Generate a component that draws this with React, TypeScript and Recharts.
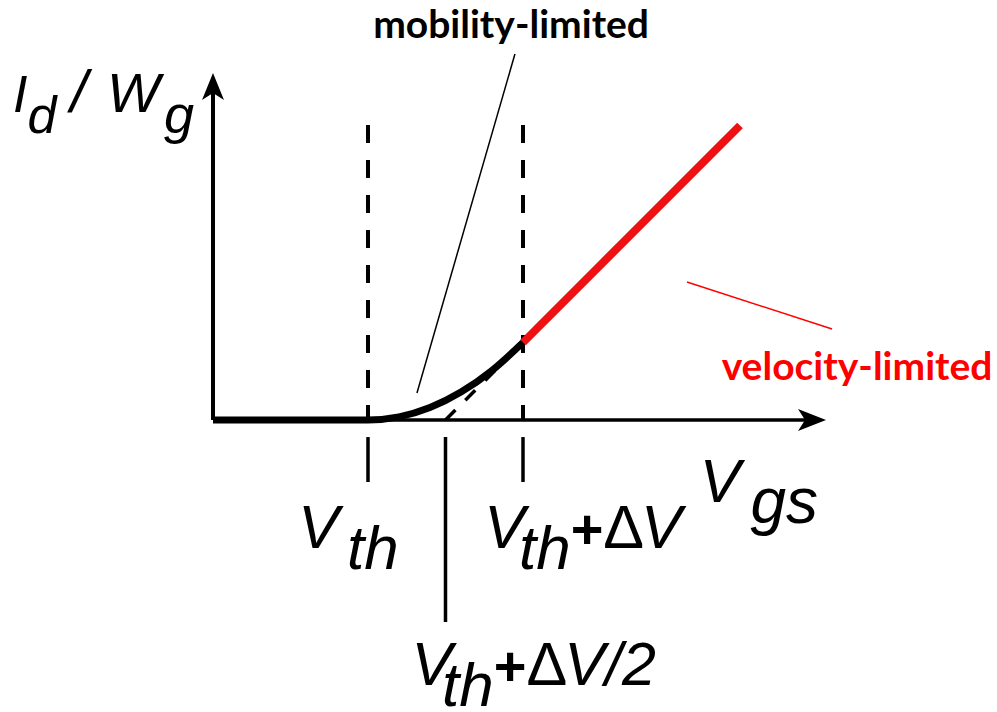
import React from 'react';
import { ComposedChart, Line, XAxis, YAxis, ReferenceLine, ReferenceDot } from 'recharts';

// Drain current per gate width versus gate voltage, in normalised units
// (V_th = 1, ΔV = 1, unit slope in the velocity-limited regime).
const mobilityVgs = [0, 1.0, 1.2, 1.4, 1.6, 1.8, 2.0];
const mobilityId = [0, 0, 0.02, 0.08, 0.18, 0.32, 0.5];
const velocityVgs = [2.0, 3.4];
const velocityId = [0.5, 1.9];
const tangentVgs = [1.5, 2.0];
const tangentId = [0, 0.5];

// Marked gate voltages
const V_TH = 1.0;
const V_TH_HALF = 1.5;
const V_TH_DV = 2.0;

const CHART_W = 997;
const CHART_H = 712;
const X_DOMAIN: [number, number] = [-1.3742, 5.0581];
const Y_DOMAIN: [number, number] = [-1.8839, 2.7097];

const mobilityData = mobilityVgs.map((v, i) => ({ v, id: mobilityId[i] }));
const velocityData = velocityVgs.map((v, i) => ({ v, id: velocityId[i] }));
const tangentData = tangentVgs.map((v, i) => ({ v, id: tangentId[i] }));

const MATH_FONT = "'Liberation Sans', Arial, Helvetica, sans-serif";
const NOTE_FONT = "Lato, 'Open Sans', sans-serif";
const SUB = 21;

type DotProps = { cx?: number; cy?: number };

const VthLabel = ({ cx = 0, cy = 0 }: DotProps) => (
  <text x={cx} y={cy} fontFamily={MATH_FONT} fontStyle="italic" fontSize={61} fill="#000">
    <tspan>V</tspan>
    <tspan dy={SUB} dx={8} fontSize={62}>th</tspan>
  </text>
);

const VthDvLabel = ({ cx = 0, cy = 0, half = false }: DotProps & { half?: boolean }) => (
  <text x={cx} y={cy} fontFamily={MATH_FONT} fontStyle="italic" fontSize={61} fill="#000">
    <tspan>V</tspan>
    <tspan dy={SUB} dx={half ? -10 : -6} fontSize={62}>th</tspan>
    <tspan dy={-SUB} dx={0} fontSize={56} fontStyle="normal" fontWeight="bold">+</tspan>
    <tspan dx={0} fontStyle="normal">Δ</tspan>
    <tspan dx={-3}>{half ? 'V/2' : 'V'}</tspan>
  </text>
);

const VgsLabel = ({ cx = 0, cy = 0 }: DotProps) => (
  <text x={cx} y={cy} fontFamily={MATH_FONT} fontStyle="italic" fontSize={61} fill="#000">
    <tspan>V</tspan>
    <tspan dy={SUB} dx={10} fontSize={64}>gs</tspan>
  </text>
);

const IdLabel = ({ cx = 0, cy = 0 }: DotProps) => (
  <text x={cx} y={cy} fontFamily={MATH_FONT} fontStyle="italic" fontSize={52} fill="#000">
    <tspan>I</tspan>
    <tspan dy={SUB} fontSize={52}>d</tspan>
    <tspan dy={-SUB} dx={14} fontSize={60}>/</tspan>
    <tspan dx={20} fontSize={56}>W</tspan>
    <tspan dy={SUB} dx={4} fontSize={54}>g</tspan>
  </text>
);

const NoteLabel = ({ cx = 0, cy = 0, text, color }: DotProps & { text: string; color: string }) => (
  <text x={cx} y={cy} fontFamily={NOTE_FONT} fontWeight="bold" fontSize={39} fill={color} textAnchor="middle">
    {text}
  </text>
);

const UpArrow = ({ cx = 0, cy = 0 }: DotProps) => (
  <polygon points={`${cx},${cy} ${cx - 11},${cy + 27} ${cx},${cy + 20} ${cx + 11},${cy + 27}`} fill="#000" />
);

const RightArrow = ({ cx = 0, cy = 0 }: DotProps) => (
  <polygon points={`${cx},${cy} ${cx - 28},${cy - 11} ${cx - 21},${cy} ${cx - 28},${cy + 11}`} fill="#000" />
);

const dashTop = 1.903;
const tickTop = -0.11;
const tickBottom = -0.4;
const longTickBottom = -1.303;

export default function App() {
  return (
    <div style={{ position: 'absolute', left: 0, top: 0, width: CHART_W, height: CHART_H, background: '#fff' }}>
      <ComposedChart width={CHART_W} height={CHART_H} margin={{ top: 0, right: 0, bottom: 0, left: 0 }}>
        <XAxis type="number" dataKey="v" domain={X_DOMAIN} hide allowDataOverflow />
        <YAxis type="number" domain={Y_DOMAIN} hide allowDataOverflow />

        {/* axes */}
        <ReferenceLine segment={[{ x: 0, y: 0 }, { x: 0, y: 2.135 }]} stroke="#000" strokeWidth={4} ifOverflow="visible" />
        <ReferenceLine segment={[{ x: 0, y: 0 }, { x: 3.83, y: 0 }]} stroke="#000" strokeWidth={3.5} ifOverflow="visible" />
        <ReferenceDot x={0} y={2.239} r={0} shape={(p: DotProps) => <UpArrow {...p} />} ifOverflow="visible" />
        <ReferenceDot x={3.955} y={0} r={0} shape={(p: DotProps) => <RightArrow {...p} />} ifOverflow="visible" />

        {/* V_th and V_th+ΔV guides */}
        <ReferenceLine segment={[{ x: V_TH, y: dashTop }, { x: V_TH, y: 0 }]} stroke="#000" strokeWidth={4} strokeDasharray="18 17" ifOverflow="visible" />
        <ReferenceLine segment={[{ x: V_TH_DV, y: dashTop }, { x: V_TH_DV, y: 0 }]} stroke="#000" strokeWidth={4} strokeDasharray="18 17" ifOverflow="visible" />
        <ReferenceLine segment={[{ x: V_TH, y: tickTop }, { x: V_TH, y: tickBottom }]} stroke="#000" strokeWidth={3.5} ifOverflow="visible" />
        <ReferenceLine segment={[{ x: V_TH_DV, y: tickTop }, { x: V_TH_DV, y: tickBottom }]} stroke="#000" strokeWidth={3.5} ifOverflow="visible" />
        <ReferenceLine segment={[{ x: V_TH_HALF, y: tickTop }, { x: V_TH_HALF, y: longTickBottom }]} stroke="#000" strokeWidth={3.5} ifOverflow="visible" />

        {/* leader lines */}
        <ReferenceLine segment={[{ x: 1.948, y: 2.361 }, { x: 1.316, y: 0.174 }]} stroke="#000" strokeWidth={1.5} ifOverflow="visible" />
        <ReferenceLine segment={[{ x: 3.058, y: 0.89 }, { x: 3.994, y: 0.587 }]} stroke="#ff0000" strokeWidth={1.5} ifOverflow="visible" />

        {/* curves */}
        <Line data={tangentData} dataKey="id" type="linear" stroke="#000" strokeWidth={3.5} strokeDasharray="14 14" dot={false} activeDot={false} isAnimationActive={false} />
        <Line data={mobilityData} dataKey="id" type="monotone" stroke="#000" strokeWidth={7} dot={false} activeDot={false} isAnimationActive={false} />
        <Line data={velocityData} dataKey="id" type="linear" stroke="#ee1111" strokeWidth={8} dot={false} activeDot={false} isAnimationActive={false} />

        {/* labels */}
        <ReferenceDot x={-1.29} y={1.987} r={0} shape={(p: DotProps) => <IdLabel {...p} />} />
        <ReferenceDot x={0.55} y={-0.826} r={0} shape={(p: DotProps) => <VthLabel {...p} />} />
        <ReferenceDot x={1.75} y={-0.826} r={0} shape={(p: DotProps) => <VthDvLabel {...p} />} />
        <ReferenceDot x={1.28} y={-1.71} r={0} shape={(p: DotProps) => <VthDvLabel {...p} half />} />
        <ReferenceDot x={3.14} y={-0.529} r={0} shape={(p: DotProps) => <VgsLabel {...p} />} />
        <ReferenceDot x={1.923} y={2.465} r={0} shape={(p: DotProps) => <NoteLabel {...p} text="mobility-limited" color="#000" />} />
        <ReferenceDot x={4.155} y={0.258} r={0} shape={(p: DotProps) => <NoteLabel {...p} text="velocity-limited" color="#ff0000" />} />
      </ComposedChart>
    </div>
  );
}
